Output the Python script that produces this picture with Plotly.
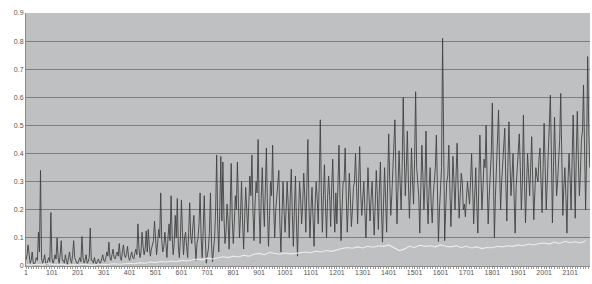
import plotly.graph_objects as go

STEP_DARK = 8
STEP_LIGHT = 20

# main samples (x = 1, 9, 17, ...)
dark_a = [0.02, 0.075, 0.01, 0.05, 0.005, 0.03, 0.12, 0.34, 0.01, 0.04, 0.005, 0.03, 0.19, 0.01, 0.04, 0.1, 0.01, 0.09, 0.02, 0.04, 0.005, 0.05, 0.01, 0.09, 0.02]
dark_b = [0.01, 0.03, 0.105, 0.01, 0.04, 0.015, 0.135, 0.02, 0.03, 0.005, 0.025, 0.01, 0.04, 0.015, 0.05, 0.085, 0.02, 0.06, 0.025, 0.05, 0.08, 0.02, 0.075, 0.03, 0.07]
dark_c = [0.02, 0.05, 0.025, 0.06, 0.15, 0.03, 0.12, 0.04, 0.125, 0.13, 0.035, 0.08, 0.16, 0.04, 0.13, 0.26, 0.05, 0.12, 0.03, 0.15, 0.25, 0.04, 0.18, 0.24, 0.03]
dark_d = [0.235, 0.04, 0.12, 0.03, 0.225, 0.08, 0.18, 0.02, 0.1, 0.26, 0.03, 0.25, 0.01, 0.06, 0.26, 0.015, 0.1, 0.395, 0.05, 0.39, 0.37, 0.08, 0.22, 0.06, 0.365]
dark_e = [0.08, 0.25, 0.37, 0.1, 0.3, 0.06, 0.28, 0.12, 0.32, 0.395, 0.09, 0.3, 0.45, 0.08, 0.35, 0.14, 0.42, 0.07, 0.3, 0.43, 0.1, 0.25, 0.34, 0.05, 0.3]
dark_f = [0.12, 0.3, 0.1, 0.345, 0.07, 0.32, 0.035, 0.3, 0.15, 0.33, 0.12, 0.45, 0.1, 0.28, 0.07, 0.3, 0.15, 0.52, 0.12, 0.36, 0.1, 0.32, 0.14, 0.38, 0.12]
dark_g = [0.15, 0.43, 0.09, 0.3, 0.42, 0.12, 0.33, 0.14, 0.28, 0.4, 0.15, 0.425, 0.18, 0.3, 0.1, 0.35, 0.16, 0.3, 0.11, 0.34, 0.13, 0.37, 0.085, 0.35, 0.12]
dark_h = [0.47, 0.18, 0.35, 0.52, 0.15, 0.41, 0.2, 0.6, 0.25, 0.48, 0.17, 0.42, 0.22, 0.62, 0.3, 0.117, 0.43, 0.2, 0.48, 0.15, 0.35, 0.153, 0.3, 0.466, 0.087]
dark_i = [0.3, 0.81, 0.09, 0.3, 0.43, 0.14, 0.39, 0.2, 0.437, 0.17, 0.33, 0.2, 0.175, 0.3, 0.22, 0.4, 0.15, 0.35, 0.117, 0.466, 0.2, 0.38, 0.5, 0.15, 0.35]
dark_j = [0.58, 0.1, 0.35, 0.555, 0.2, 0.38, 0.49, 0.16, 0.513, 0.25, 0.4, 0.117, 0.36, 0.47, 0.2, 0.537, 0.153, 0.4, 0.25, 0.46, 0.165, 0.35, 0.3, 0.42, 0.19]
dark_k = [0.508, 0.2, 0.4, 0.608, 0.153, 0.53, 0.25, 0.38, 0.614, 0.18, 0.35, 0.117, 0.4, 0.2, 0.537, 0.17, 0.55, 0.25, 0.45, 0.644, 0.2, 0.745, 0.35]

# in-between samples (x = 5, 13, 21, ...)
dark_a2 = [0.04, 0.03, 0.02, 0.01, 0.015, 0.02, 0.05, 0.03, 0.02, 0.01, 0.02, 0.015, 0.03, 0.02, 0.025, 0.03, 0.04, 0.02, 0.01, 0.02, 0.03, 0.02, 0.04, 0.03, 0.01]
dark_b2 = [0.02, 0.015, 0.03, 0.02, 0.01, 0.03, 0.02, 0.01, 0.015, 0.02, 0.01, 0.025, 0.02, 0.03, 0.035, 0.03, 0.04, 0.03, 0.04, 0.035, 0.03, 0.05, 0.04, 0.045, 0.03]
dark_c2 = [0.035, 0.03, 0.045, 0.04, 0.06, 0.05, 0.07, 0.06, 0.05, 0.07, 0.06, 0.09, 0.07, 0.08, 0.1, 0.09, 0.07, 0.08, 0.1, 0.09, 0.11, 0.08, 0.1, 0.07, 0.1]
dark_d2 = [0.12, 0.1, 0.07, 0.12, 0.1, 0.14, 0.09, 0.08, 0.15, 0.1, 0.13, 0.1, 0.04, 0.12, 0.08, 0.06, 0.2, 0.15, 0.2, 0.16, 0.18, 0.12, 0.16, 0.2, 0.17]
dark_e2 = [0.15, 0.2, 0.22, 0.18, 0.16, 0.17, 0.2, 0.22, 0.25, 0.2, 0.22, 0.26, 0.2, 0.24, 0.22, 0.28, 0.2, 0.18, 0.25, 0.22, 0.2, 0.27, 0.15, 0.18, 0.2]
dark_f2 = [0.2, 0.22, 0.25, 0.18, 0.2, 0.15, 0.18, 0.24, 0.22, 0.25, 0.28, 0.22, 0.2, 0.17, 0.22, 0.24, 0.3, 0.26, 0.25, 0.22, 0.24, 0.25, 0.28, 0.22, 0.26]
dark_g2 = [0.28, 0.24, 0.2, 0.3, 0.25, 0.22, 0.24, 0.2, 0.3, 0.28, 0.3, 0.26, 0.24, 0.2, 0.22, 0.25, 0.24, 0.2, 0.22, 0.25, 0.27, 0.2, 0.22, 0.24, 0.3]
dark_h2 = [0.3, 0.25, 0.4, 0.32, 0.28, 0.3, 0.35, 0.4, 0.35, 0.3, 0.28, 0.3, 0.38, 0.35, 0.25, 0.28, 0.32, 0.3, 0.25, 0.28, 0.22, 0.25, 0.35, 0.28, 0.2]
dark_i2 = [0.35, 0.3, 0.2, 0.32, 0.28, 0.25, 0.3, 0.32, 0.28, 0.25, 0.3, 0.22, 0.24, 0.26, 0.3, 0.28, 0.25, 0.22, 0.3, 0.32, 0.28, 0.35, 0.3, 0.25, 0.4]
dark_j2 = [0.35, 0.25, 0.4, 0.35, 0.3, 0.42, 0.3, 0.35, 0.38, 0.32, 0.25, 0.28, 0.4, 0.35, 0.3, 0.32, 0.28, 0.33, 0.35, 0.3, 0.26, 0.32, 0.38, 0.3, 0.35]
dark_k2 = [0.35, 0.3, 0.45, 0.4, 0.35, 0.38, 0.3, 0.45, 0.4, 0.28, 0.25, 0.3, 0.32, 0.38, 0.35, 0.4, 0.38, 0.33, 0.48, 0.42, 0.4, 0.5]

light_a = [0.005, 0.003, 0.006, 0.004, 0.008, 0.005, 0.004, 0.006, 0.003, 0.005]
light_b = [0.004, 0.006, 0.005, 0.003, 0.007, 0.005, 0.006, 0.008, 0.006, 0.009]
light_c = [0.01, 0.008, 0.012, 0.01, 0.014, 0.012, 0.016, 0.014, 0.018, 0.015]
light_d = [0.02, 0.018, 0.022, 0.025, 0.022, 0.028, 0.025, 0.03, 0.033, 0.03]
light_e = [0.035, 0.032, 0.038, 0.035, 0.042, 0.045, 0.04, 0.048, 0.044, 0.042]
light_f = [0.046, 0.043, 0.045, 0.048, 0.05, 0.047, 0.053, 0.05, 0.055, 0.052]
light_g = [0.058, 0.062, 0.066, 0.063, 0.068, 0.064, 0.07, 0.067, 0.072, 0.07]
light_h = [0.075, 0.065, 0.055, 0.06, 0.07, 0.066, 0.074, 0.07, 0.072, 0.068]
light_i = [0.075, 0.07, 0.068, 0.072, 0.066, 0.07, 0.064, 0.068, 0.062, 0.066]
light_j = [0.065, 0.07, 0.068, 0.072, 0.07, 0.075, 0.072, 0.078, 0.075, 0.08]
light_k = [0.082, 0.078, 0.085, 0.08, 0.088, 0.083, 0.086, 0.082, 0.09]

tick_labels = [str(v) for v in range(1, 2102, 100)]
y_ticks = [0, 0.1, 0.2, 0.3, 0.4, 0.5, 0.6, 0.7, 0.8, 0.9]

main = dark_a + dark_b + dark_c + dark_d + dark_e + dark_f + dark_g + dark_h + dark_i + dark_j + dark_k
between = dark_a2 + dark_b2 + dark_c2 + dark_d2 + dark_e2 + dark_f2 + dark_g2 + dark_h2 + dark_i2 + dark_j2 + dark_k2

x_dark, dark = [], []
for i, v in enumerate(main):
    x_dark.append(1 + STEP_DARK * i)
    dark.append(v)
    if i < len(between):
        x_dark.append(1 + STEP_DARK * i + STEP_DARK // 2)
        dark.append(between[i])

light = light_a + light_b + light_c + light_d + light_e + light_f + light_g + light_h + light_i + light_j + light_k
x_light = [1 + STEP_LIGHT * i for i in range(len(light))]

fig = go.Figure()
fig.add_trace(go.Scatter(x=x_dark, y=dark, mode="lines",
                         line=dict(color="#424242", width=0.9), hoverinfo="skip"))
fig.add_trace(go.Scatter(x=x_light, y=light, mode="lines",
                         line=dict(color="#ececec", width=1.1), hoverinfo="skip"))

fig.update_layout(
    width=592, height=284,
    margin=dict(l=26, r=2, t=13, b=18),
    paper_bgcolor="white", plot_bgcolor="#bfc0c2",
    showlegend=False,
    font=dict(family="Liberation Sans, Arial, sans-serif", size=7, color="#555555"),
)
fig.update_xaxes(
    range=[1, 2178], automargin=False,
    tickmode="array", tickvals=[int(t) for t in tick_labels], ticktext=tick_labels,
    showgrid=False, zeroline=False,
    showline=True, linecolor="#8a8a8a", linewidth=1,
    ticks="", ticklen=0,
    minor=dict(tick0=1, dtick=10, ticks="outside", ticklen=2, tickcolor="#9a9a9a", showgrid=False),
    tickfont=dict(size=7, color="#555555"),
)
fig.update_yaxes(
    range=[0, 0.9], automargin=False,
    tickmode="array", tickvals=y_ticks, ticktext=[("0" if v == 0 else f"{v:g}") for v in y_ticks],
    showgrid=True, gridcolor="#7d7d7d", gridwidth=1.3,
    zeroline=False, showline=True, linecolor="#8a8a8a", linewidth=1,
    ticks="", tickfont=dict(size=7, color="#555555"),
)

fig.write_html(
    "out.html",
    config={"displayModeBar": False},
    post_script="document.documentElement.style.margin='0';document.body.style.margin='0';document.body.style.padding='0';document.body.style.overflow='hidden';",
)
